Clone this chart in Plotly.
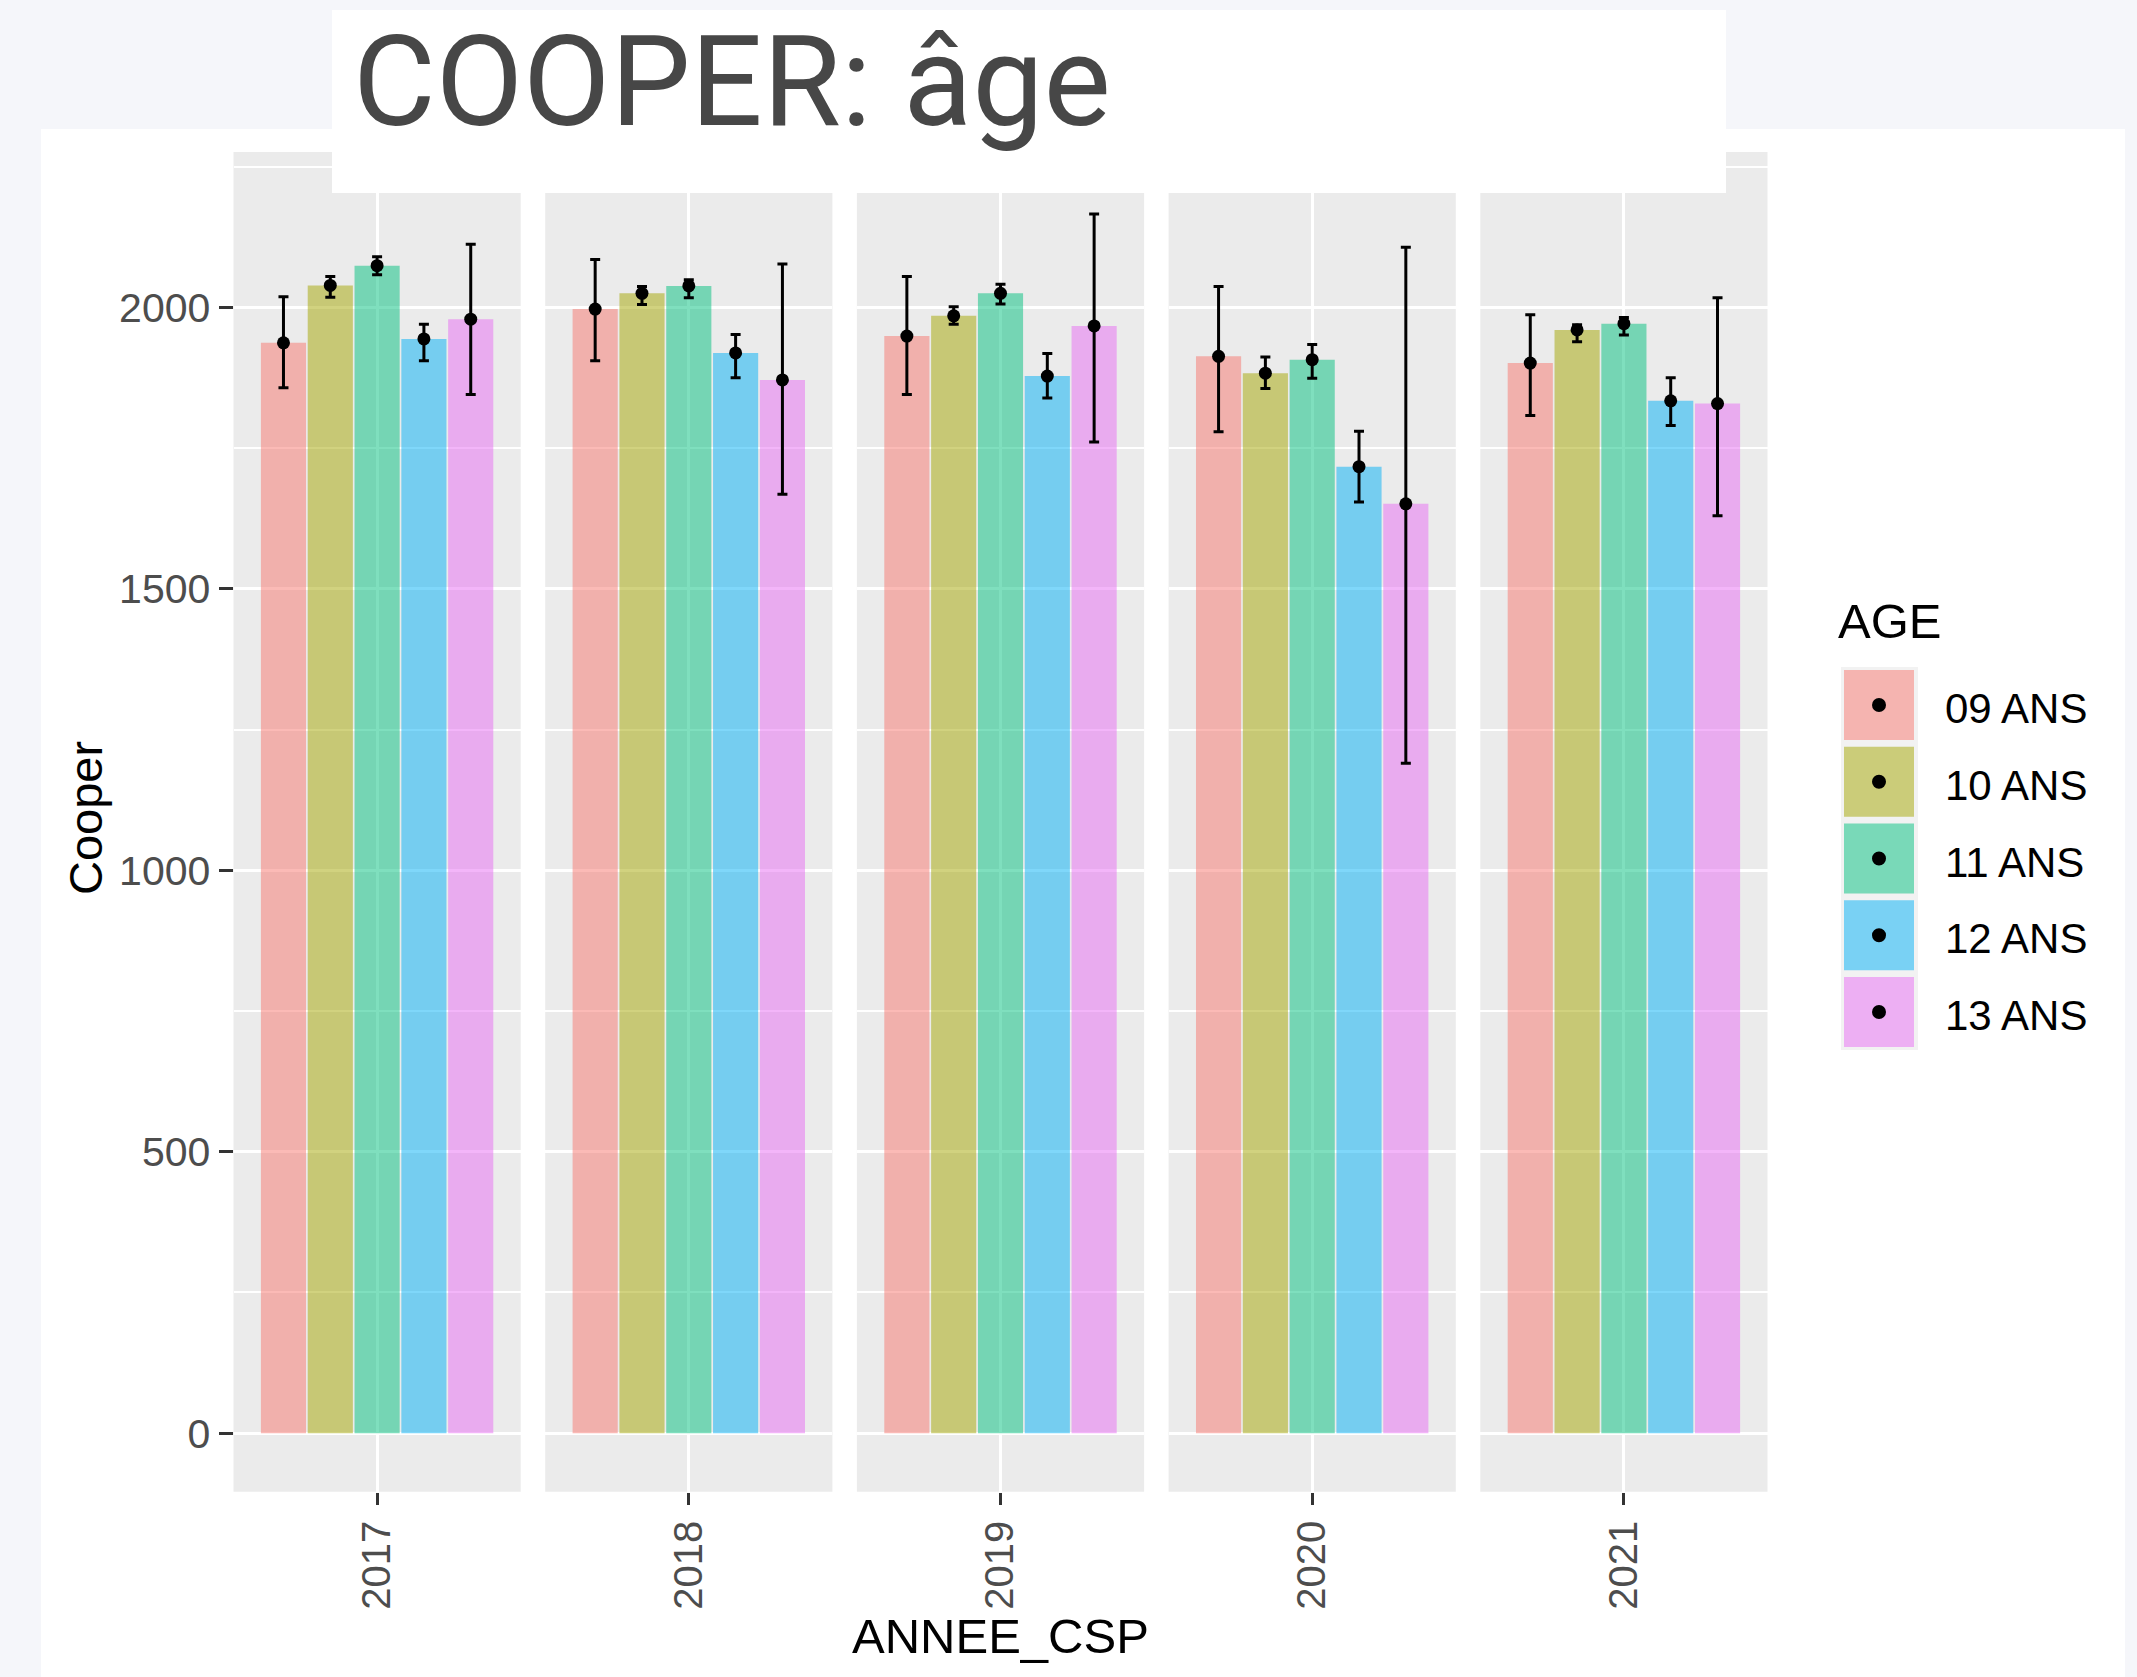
import plotly.graph_objects as go

# ---------------- data ----------------
years = ["2017", "2018", "2019", "2020", "2021"]
ages = ["09 ANS", "10 ANS", "11 ANS", "12 ANS", "13 ANS"]

mean_09 = [1937, 1997, 1949, 1913, 1901]
mean_10 = [2039, 2025, 1985, 1883, 1960]
mean_11 = [2074, 2038, 2025, 1907, 1971]
mean_12 = [1944, 1919, 1878, 1717, 1834]
mean_13 = [1979, 1871, 1967, 1651, 1829]

low_09 = [1857, 1905, 1845, 1779, 1808]
low_10 = [2018, 2005, 1970, 1856, 1939]
low_11 = [2058, 2017, 2006, 1874, 1951]
low_12 = [1905, 1875, 1839, 1654, 1790]
low_13 = [1845, 1668, 1761, 1190, 1630]

high_09 = [2019, 2085, 2055, 2037, 1987]
high_10 = [2055, 2037, 2001, 1912, 1969]
high_11 = [2090, 2049, 2041, 1934, 1982]
high_12 = [1970, 1952, 1918, 1780, 1875]
high_13 = [2112, 2077, 2166, 2107, 2017]

y_ticks = [0, 500, 1000, 1500, 2000]
y_minor = [250, 750, 1250, 1750, 2250]

title_text = "COOPER: âge"
y_title = "Cooper"
x_title = "ANNEE_CSP"
legend_title = "AGE"

means = [mean_09, mean_10, mean_11, mean_12, mean_13]
lows = [low_09, low_10, low_11, low_12, low_13]
highs = [high_09, high_10, high_11, high_12, high_13]
colors = ["#F8766D", "#A3A500", "#00BF7D", "#00B0F6", "#E76BF3"]

# ---------------- geometry ----------------
W, H = 2137, 1677
def fx(px):
    return px / W
def fy(py):
    return 1 - py / H

panel_left0 = 233.5
panel_step = 311.7
panel_w = 287.2
panel_top = 152
panel_bot = 1491.7
bw = 0.978 / len(ages)
gap = 0.007

ggfont = "Liberation Sans, Arial, sans-serif"

fig = go.Figure()
layout = dict(
    width=W, height=H, autosize=False,
    margin=dict(l=0, r=0, t=0, b=0),
    paper_bgcolor="#F5F6FA",
    plot_bgcolor="rgba(0,0,0,0)",
    barmode="overlay",
    showlegend=False,
    font=dict(family=ggfont),
)

shapes = []
# white image area
shapes.append(dict(type="rect", xref="paper", yref="paper", layer="below",
                   x0=fx(41), x1=fx(2125), y0=fy(1677), y1=fy(129),
                   fillcolor="white", line=dict(width=0)))

for k, yr in enumerate(years):
    sfx = "" if k == 0 else str(k + 1)
    xa = "x" + sfx
    ya = "y" + sfx
    x0 = panel_left0 + k * panel_step
    x1 = x0 + panel_w
    # panel background
    shapes.append(dict(type="rect", xref="paper", yref="paper", layer="below",
                       x0=fx(x0), x1=fx(x1), y0=fy(panel_bot), y1=fy(panel_top),
                       fillcolor="#EBEBEB", line=dict(width=0)))
    for i, age in enumerate(ages):
        xpos = (i - (len(ages) - 1) / 2) * bw
        fig.add_trace(go.Bar(
            x=[xpos], y=[means[i][k]], width=bw - gap,
            marker=dict(color=colors[i], line=dict(width=0)),
            opacity=0.5, xaxis=xa, yaxis=ya, name=age, hoverinfo="skip"))
    for i, age in enumerate(ages):
        xpos = (i - (len(ages) - 1) / 2) * bw
        fig.add_trace(go.Scatter(
            x=[xpos], y=[means[i][k]], mode="markers",
            marker=dict(color="black", size=13),
            error_y=dict(type="data", symmetric=False,
                         array=[highs[i][k] - means[i][k]],
                         arrayminus=[means[i][k] - lows[i][k]],
                         color="black", thickness=3, width=5),
            xaxis=xa, yaxis=ya, name=age, hoverinfo="skip"))

    layout["xaxis" + sfx] = dict(
        domain=[fx(x0), fx(x1)], range=[-0.6, 0.6], anchor=ya,
        tickmode="array", tickvals=[0], ticktext=[yr], tickangle=-90,
        ticks="outside", ticklen=12, tickwidth=2.7, tickcolor="#333333",
        tickfont=dict(size=40, color="#4D4D4D", family=ggfont),
        showgrid=True, gridcolor="white", gridwidth=3,
        zeroline=False, showline=False, fixedrange=True)
    layout["yaxis" + sfx] = dict(
        domain=[fy(panel_bot), fy(panel_top)], range=[-104, 2276], anchor=xa,
        tickmode="array", tickvals=y_ticks,
        ticks="outside" if k == 0 else "", ticklen=14, tickwidth=2.7,
        tickcolor="#333333", showticklabels=(k == 0),
        tickfont=dict(size=41, color="#4D4D4D", family=ggfont),
        showgrid=True, gridcolor="white", gridwidth=3,
        minor=dict(tickmode="array", tickvals=y_minor, showgrid=True,
                   gridcolor="white", gridwidth=1.5),
        zeroline=False, showline=False, fixedrange=True)

# title box (drawn above panels)
shapes.append(dict(type="rect", xref="paper", yref="paper", layer="above",
                   x0=fx(332), x1=fx(1726), y0=fy(193), y1=fy(10),
                   fillcolor="white", line=dict(width=0)))

# legend (guide) built from the age list
key_top0 = 670
key_step = 76.75
key_size = 70
shapes.append(dict(type="rect", xref="paper", yref="paper", layer="above",
                   x0=fx(1841), x1=fx(1918), y0=fy(key_top0 - 3 + key_step * 4 + key_size + 6),
                   y1=fy(key_top0 - 3), fillcolor="#F2F2F2", line=dict(width=0)))
annotations = []
for i, age in enumerate(ages):
    t = key_top0 + i * key_step
    shapes.append(dict(type="rect", xref="paper", yref="paper", layer="above",
                       x0=fx(1844), x1=fx(1844 + key_size), y0=fy(t + key_size), y1=fy(t),
                       fillcolor=colors[i], opacity=0.5, line=dict(width=0)))
    cx, cy = 1844 + key_size / 2, t + key_size / 2
    shapes.append(dict(type="circle", xref="paper", yref="paper", layer="above",
                       x0=fx(cx - 7), x1=fx(cx + 7), y0=fy(cy + 7), y1=fy(cy - 7),
                       fillcolor="black", line=dict(width=0)))
    annotations.append(dict(text=age, xref="paper", yref="paper", showarrow=False,
                            x=fx(1943), y=fy(cy + 3.5), xanchor="left", yanchor="middle",
                            font=dict(size=42, color="black", family=ggfont)))

annotations.append(dict(text=legend_title, xref="paper", yref="paper", showarrow=False,
                        x=fx(1836), y=fy(621), xanchor="left", yanchor="middle",
                        font=dict(size=49, color="black", family=ggfont)))
annotations.append(dict(text=y_title, xref="paper", yref="paper", showarrow=False,
                        x=fx(85), y=fy(818), xanchor="center", yanchor="middle",
                        textangle=-90,
                        font=dict(size=47, color="black", family=ggfont)))
annotations.append(dict(text=x_title, xref="paper", yref="paper", showarrow=False,
                        x=fx(1000), y=fy(1636), xanchor="center", yanchor="middle",
                        font=dict(size=49, color="black", family=ggfont)))
annotations.append(dict(text=title_text, xref="paper", yref="paper", showarrow=False,
                        x=fx(351), y=fy(82), xanchor="left", yanchor="middle",
                        font=dict(size=127, color="#474747", family="Roboto")))

layout["shapes"] = shapes
layout["annotations"] = annotations
fig.update_layout(**layout)
fig.write_html(
    "out.html",
    config={"displayModeBar": False},
    post_script="document.body.style.margin='0';"
                "document.body.style.background='#F5F6FA';"
                "document.body.style.overflow='hidden';",
)
